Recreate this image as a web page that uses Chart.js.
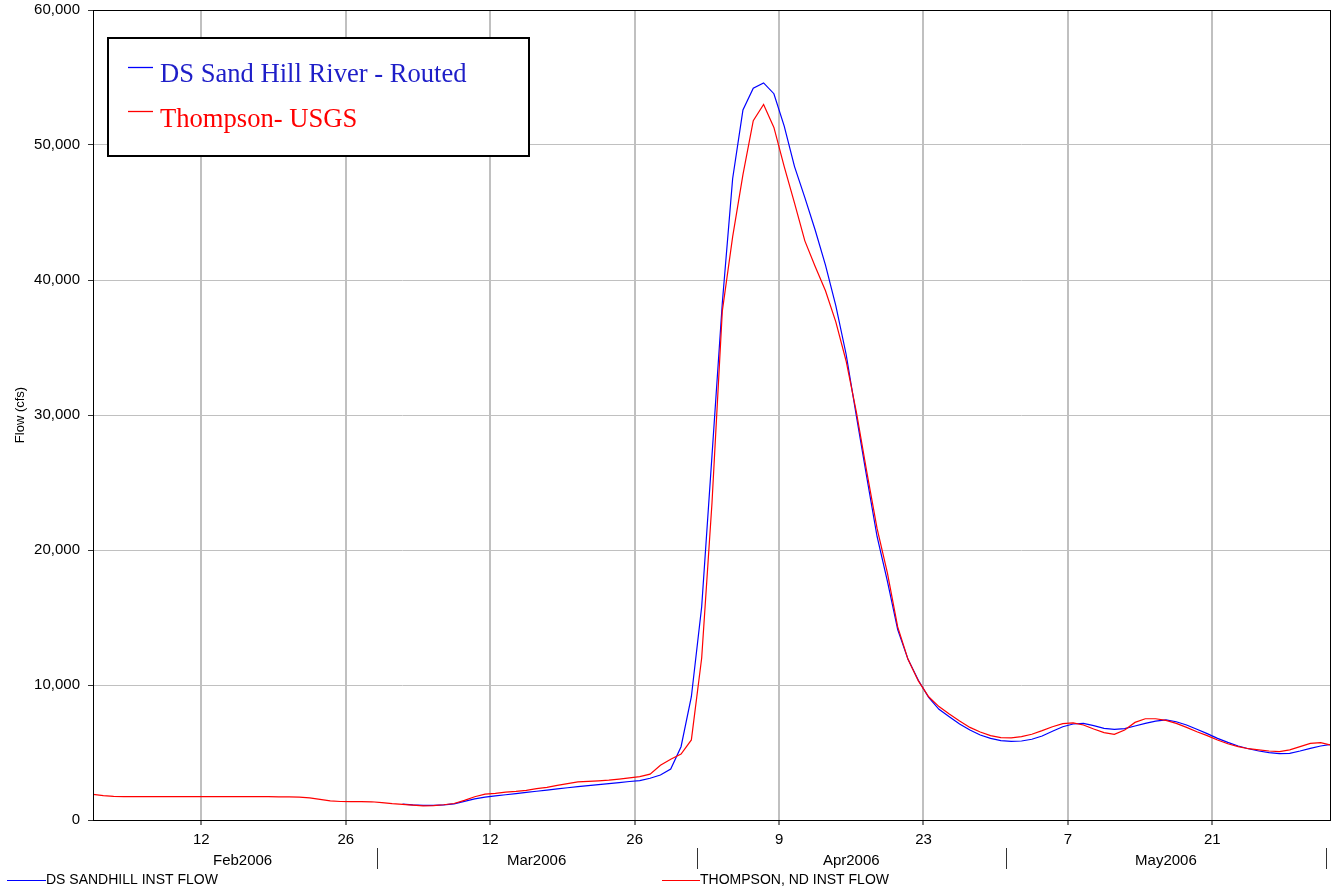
<!DOCTYPE html>
<html>
<head>
<meta charset="utf-8">
<title>Flow (cfs)</title>
<script src="https://cdn.jsdelivr.net/npm/chart.js@4.4.1/dist/chart.umd.min.js"></script>
<style>
  html, body { margin: 0; padding: 0; background: #fff; }
  canvas { display: block; }
</style>
</head>
<body>
<canvas id="flowChart" width="1338" height="892"></canvas>
<script>
//day 0 = 01Feb2006 00:00, daily values are stamped at noon
var START_DAY = 0.5;

//THOMPSON, ND INST FLOW (cfs), 01Feb2006 - 31May2006
var thompsonFlow = [
    1900, 1800, 1750, 1730, 1730, 1730, 1730, 1730, 1730, 1730,
    1730, 1730, 1730, 1730, 1730, 1730, 1730, 1730, 1720, 1720,
    1700, 1640, 1530, 1420, 1370, 1360, 1360, 1350, 1280, 1210,
    1160, 1100, 1050, 1070, 1130, 1220, 1450, 1720, 1910, 1970,
    2060, 2120, 2200, 2330, 2420, 2560, 2700, 2820, 2860, 2900,
    2950, 3030, 3120, 3210, 3400, 4050, 4500, 4890, 5930, 12000,
    23500, 37700, 43200, 47800, 51800, 53000, 51300, 48400, 45700, 42900,
    41000, 39200, 36900, 34000, 30200, 25800, 21600, 18300, 14300, 11900,
    10300, 9130, 8400, 7850, 7330, 6860, 6520, 6250, 6100, 6080,
    6170, 6350, 6620, 6910, 7140, 7190, 7040, 6740, 6470, 6350,
    6670, 7230, 7500, 7500, 7380, 7160, 6860, 6540, 6250, 5930,
    5650, 5430, 5280, 5190, 5110, 5060, 5190, 5430, 5680, 5730,
    5550
];

//DS SANDHILL INST FLOW (cfs), routed series starts 03Mar2006
var sandhillFlow = [
    null, null, null, null, null, null, null, null, null, null,
    null, null, null, null, null, null, null, null, null, null,
    null, null, null, null, null, null, null, null, null, null,
    1180, 1120, 1080, 1080, 1120, 1200, 1380, 1560, 1700, 1780,
    1870, 1960, 2040, 2130, 2210, 2300, 2390, 2470, 2540, 2620,
    2690, 2770, 2850, 2920, 3090, 3330, 3780, 5430, 9130, 15800,
    27000, 38300, 47500, 52600, 54200, 54600, 53800, 51400, 48400, 46100,
    43700, 41100, 38100, 34500, 29900, 25400, 21000, 17700, 14100, 11900,
    10350, 9090, 8200, 7650, 7110, 6670, 6300, 6050, 5880, 5830,
    5850, 5980, 6220, 6570, 6910, 7110, 7160, 6990, 6790, 6720,
    6770, 6960, 7160, 7330, 7410, 7280, 7040, 6720, 6400, 6050,
    5750, 5480, 5280, 5110, 4990, 4910, 4940, 5110, 5310, 5480,
    5600
];

//x轴刻度（天）和标签
var tickDays = [11, 25, 39, 53, 67, 81, 95, 109];
var tickLabels = ['12', '26', '12', '26', '9', '23', '7', '21'];
//月份标签
var monthNames = ['Feb2006', 'Mar2006', 'Apr2006', 'May2006'];
var monthMid = [15, 43.5, 74, 104.5];
var monthEnd = [28, 59, 89, 120];

var SANS = '"Liberation Sans", Arial, sans-serif';
var SERIF = '"Liberation Serif", "Times New Roman", serif';

function toPoints(arr) {
    return arr.map(function (v, i) {
        return { x: START_DAY + i, y: v };
    });
}

//框线、月份、图例
var decoPlugin = {
    id: 'deco',
    afterDraw: function (chart) {
        var ctx = chart.ctx;
        var a = chart.chartArea;
        var xs = chart.scales.x;
        ctx.save();

        //绘图区边框
        ctx.strokeStyle = '#000';
        ctx.lineWidth = 1;
        ctx.strokeRect(Math.round(a.left) + 0.5, Math.round(a.top) + 0.5,
            Math.round(a.right - a.left) - 1, Math.round(a.bottom - a.top));

        //月份标签和分隔线
        ctx.fillStyle = '#000';
        ctx.font = '15px ' + SANS;
        ctx.textAlign = 'center';
        ctx.textBaseline = 'middle';
        monthNames.forEach(function (m, k) {
            ctx.fillText(m, xs.getPixelForValue(monthMid[k]), a.bottom + 41);
        });
        ctx.strokeStyle = '#333';
        monthEnd.forEach(function (d) {
            var px = Math.round(xs.getPixelForValue(d)) + 0.5;
            ctx.beginPath();
            ctx.moveTo(px, a.bottom + 28);
            ctx.lineTo(px, a.bottom + 49);
            ctx.stroke();
        });

        //底部图例
        ctx.font = '14px ' + SANS;
        ctx.textAlign = 'left';
        var ly = a.bottom + 60.5;
        [[7, 46, '#0000ff', 'DS SANDHILL INST FLOW'],
         [662, 700, '#ff0000', 'THOMPSON, ND INST FLOW']].forEach(function (it) {
            ctx.strokeStyle = it[2];
            ctx.beginPath();
            ctx.moveTo(it[0], ly);
            ctx.lineTo(it[1], ly);
            ctx.stroke();
            ctx.fillStyle = '#000';
            ctx.fillText(it[3], it[1], ly);
        });

        //左上角图例框
        ctx.fillStyle = '#fff';
        ctx.fillRect(108, 38, 421, 118);
        ctx.strokeStyle = '#000';
        ctx.lineWidth = 2;
        ctx.strokeRect(108, 38, 421, 118);

        ctx.lineWidth = 1.3;
        ctx.font = '26.6px ' + SERIF;
        ctx.textBaseline = 'alphabetic';
        [[67.5, 82, '#0000ff', '#1e1ec8', 'DS Sand Hill River - Routed'],
         [111.5, 126.5, '#ff0000', '#ff0000', 'Thompson- USGS']].forEach(function (it) {
            ctx.strokeStyle = it[2];
            ctx.beginPath();
            ctx.moveTo(128, it[0]);
            ctx.lineTo(153, it[0]);
            ctx.stroke();
            ctx.fillStyle = it[3];
            ctx.fillText(it[4], 160, it[1]);
        });

        ctx.restore();
    }
};

var ctx = document.getElementById('flowChart').getContext('2d');
var myChart = new Chart(ctx, {
    type: 'line',
    data: {
        datasets: [{
            label: 'DS SANDHILL INST FLOW',
            data: toPoints(sandhillFlow),
            borderColor: '#0000ff',
            borderWidth: 1.2,
            pointRadius: 0,
            tension: 0,
            order: 2
        }, {
            label: 'THOMPSON, ND INST FLOW',
            data: toPoints(thompsonFlow),
            borderColor: '#ff0000',
            borderWidth: 1.2,
            pointRadius: 0,
            tension: 0,
            order: 1
        }]
    },
    options: {
        responsive: false,
        animation: false,
        parsing: false,
        layout: { padding: { top: 10, right: 7, left: 0, bottom: 0 } },
        plugins: {
            legend: { display: false },
            tooltip: { enabled: false }
        },
        scales: {
            x: {
                type: 'linear',
                min: 0.5,
                max: 120.5,
                afterBuildTicks: function (scale) {
                    scale.ticks = tickDays.map(function (d) { return { value: d }; });
                },
                afterFit: function (scale) {
                    scale.height = 72;
                    scale.paddingLeft = 0;
                    scale.paddingRight = 0;
                },
                ticks: {
                    autoSkip: false,
                    maxRotation: 0,
                    padding: 6,
                    color: '#000',
                    font: { family: SANS, size: 15 },
                    callback: function (value) {
                        return tickLabels[tickDays.indexOf(value)];
                    }
                },
                grid: {
                    color: '#c0c0c0',
                    lineWidth: 2,
                    tickLength: 5,
                    tickColor: '#000',
                    tickWidth: 1
                },
                border: { display: false }
            },
            y: {
                min: 0,
                max: 60000,
                afterFit: function (scale) {
                    scale.width = 93;
                    //标签不额外占用上下边距
                    scale.paddingTop = 0;
                    scale.paddingBottom = 0;
                },
                ticks: {
                    stepSize: 10000,
                    padding: 8,
                    color: '#000',
                    font: { family: SANS, size: 15 },
                    callback: function (value) { return value.toLocaleString('en-US'); }
                },
                grid: {
                    color: '#c0c0c0',
                    lineWidth: 1,
                    tickLength: 5,
                    tickColor: '#333',
                    tickWidth: 1
                },
                border: { display: false },
                title: {
                    display: true,
                    text: 'Flow (cfs)',
                    color: '#000',
                    font: { family: SANS, size: 13 },
                    padding: { top: 13, bottom: 0 }
                }
            }
        }
    },
    plugins: [decoPlugin]
});
</script>
</body>
</html>
